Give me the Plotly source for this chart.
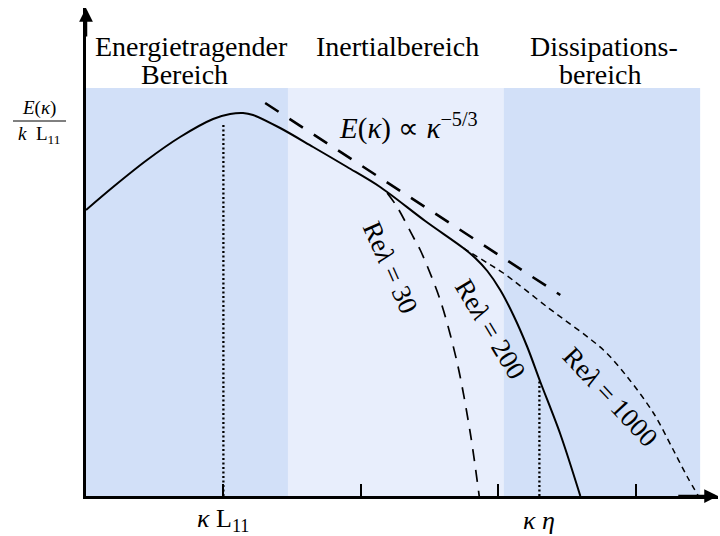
import plotly.graph_objects as go

# Normalised wavenumber (kappa) and spectrum values E(kappa)/(k L11)
kappa_main = [0.0, 0.197, 0.444, 0.685, 0.925, 1.049, 1.143, 1.216, 1.413, 1.653,
              1.901, 2.141, 2.469, 2.746, 2.833, 2.921, 3.015, 3.110, 3.212, 3.307,
              3.452, 3.598]
E_main = [2.86, 3.09, 3.36, 3.59, 3.77, 3.82, 3.83, 3.81, 3.68, 3.49,
          3.29, 3.09, 2.75, 2.48, 2.38, 2.25, 2.06, 1.81, 1.49, 1.14,
          0.62, 0.0]

kappa_re30 = [2.192, 2.265, 2.382, 2.433, 2.578, 2.702, 2.797, 2.862]
E_re30 = [3.03, 2.89, 2.59, 2.46, 1.96, 1.33, 0.63, 0.0]

kappa_re1000 = [2.746, 2.921, 3.037, 3.357, 3.766, 3.94, 4.13, 4.275, 4.377, 4.457]
E_re1000 = [2.48, 2.33, 2.23, 1.89, 1.46, 1.19, 0.83, 0.46, 0.19, 0.0]

# -5/3 reference slope
kappa_slope = [1.304, 3.452]
E_slope = [3.93, 2.01]

# Characteristic wavenumbers (kappa L11 and kappa eta) with their curve heights
kappa_L11, E_L11 = 1.0, 3.73
kappa_eta, E_eta = 3.30, 1.16

tick_vals = [1, 2, 3, 4]

# Spectral ranges
region_edges = [0.0, 1.47, 3.04, 4.47]
region_top = 4.08
region_colors = ["#d2e0f8", "#e8eefc", "#d2e0f8"]
# (text, x, y) for each title line
region_lines = [
    ("Energietragender", 0.77, 4.495),
    ("Bereich", 0.72, 4.215),
    ("Inertialbereich", 2.265, 4.495),
    ("Dissipations-", 3.77, 4.495),
    ("bereich", 3.74, 4.215),
]

re_labels = ["Re<i>λ</i> = 30", "Re<i>λ</i> = 200", "Re<i>λ</i> = 1000"]
re_label_pos = [(2.214, 2.29, 66), (2.942, 1.67, 59), (3.816, 0.99, 47)]

X_MAX, Y_MAX = 4.6, 4.88
SERIF = "Liberation Serif"

fig = go.Figure()

# shaded ranges
for x0, x1, col in zip(region_edges[:-1], region_edges[1:], region_colors):
    fig.add_shape(type="rect", x0=x0, x1=x1, y0=0, y1=region_top,
                  fillcolor=col, line_width=0, layer="below")

# spectra
fig.add_trace(go.Scatter(x=kappa_main, y=E_main, mode="lines",
                         line=dict(color="black", width=2, shape="spline", smoothing=0.9)))
fig.add_trace(go.Scatter(x=kappa_re30, y=E_re30, mode="lines",
                         line=dict(color="black", width=1.7, dash="12px,9px",
                                   shape="spline", smoothing=0.9)))
fig.add_trace(go.Scatter(x=kappa_re1000, y=E_re1000, mode="lines",
                         line=dict(color="black", width=1.5, dash="6px,4.5px",
                                   shape="spline", smoothing=0.9)))
fig.add_trace(go.Scatter(x=kappa_slope, y=E_slope, mode="lines",
                         line=dict(color="black", width=2.6, dash="16px,13px")))

# markers for kappa L11 and kappa eta
for kx, ky in [(kappa_L11, E_L11), (kappa_eta, E_eta)]:
    fig.add_trace(go.Scatter(x=[kx, kx], y=[0, ky], mode="lines",
                             line=dict(color="black", width=2.3, dash="2px,2.5px")))

ann = []
# axis arrowheads
ann.append(dict(x=X_MAX, y=0, ax=X_MAX - 0.3, ay=0, xref="x", yref="y", axref="x", ayref="y",
                text="", showarrow=True, arrowhead=2, arrowsize=1.1, arrowwidth=2.5,
                arrowcolor="black", standoff=0))
ann.append(dict(x=0, y=Y_MAX, ax=0, ay=Y_MAX - 0.3, xref="x", yref="y", axref="x", ayref="y",
                text="", showarrow=True, arrowhead=2, arrowsize=1.1, arrowwidth=2.5,
                arrowcolor="black", standoff=0))

# range titles
for txt, lx, ly in region_lines:
    ann.append(dict(x=lx, y=ly, xref="x", yref="y", text=txt, showarrow=False,
                    font=dict(family=SERIF, size=28, color="black")))

# slope annotation
ann.append(dict(x=2.345, y=3.70, xref="x", yref="y",
                text="<i>E</i>(<i>κ</i>) ∝ <i>κ</i><sup>−5/3</sup>", showarrow=False,
                font=dict(family=SERIF, size=29, color="black")))

# Reynolds number labels along curves
for txt, (lx, ly, ang) in zip(re_labels, re_label_pos):
    ann.append(dict(x=lx, y=ly, xref="x", yref="y", text=txt, showarrow=False,
                    textangle=ang, font=dict(family=SERIF, size=27, color="black")))

# x-axis labels
ann.append(dict(x=kappa_L11, y=0, xref="x", yref="y", yshift=-24,
                text="<i>κ</i> L<sub>11</sub>", showarrow=False,
                font=dict(family=SERIF, size=26, color="black")))
ann.append(dict(x=kappa_eta, y=0, xref="x", yref="y", yshift=-24,
                text="<i>κ</i> <i>η</i>", showarrow=False,
                font=dict(family=SERIF, size=26, color="black")))

# y-axis label as a fraction
ann.append(dict(x=-0.0736, y=3.75, xref="paper", yref="y", xanchor="center",
                yanchor="bottom", yshift=0,
                text="<i>E</i>(<i>κ</i>)", showarrow=False,
                font=dict(family=SERIF, size=19, color="black")))
ann.append(dict(x=-0.0736, y=3.75, xref="paper", yref="y", xanchor="center",
                yanchor="top", yshift=0,
                text="<i>k</i>  L<sub>11</sub>", showarrow=False,
                font=dict(family=SERIF, size=19, color="black")))

fig.add_shape(type="line", xref="paper", yref="y", x0=-0.1155, x1=-0.0316, y0=3.75, y1=3.75,
              line=dict(color="black", width=1))

fig.update_layout(
    width=720, height=536,
    margin=dict(l=86, r=2, t=8, b=40),
    plot_bgcolor="white", paper_bgcolor="white",
    showlegend=False,
    annotations=ann,
)
fig.update_xaxes(range=[0, X_MAX], showgrid=False, zeroline=False,
                 showline=True, linecolor="black", linewidth=2.5,
                 ticks="inside", tickvals=tick_vals, ticklen=12, tickwidth=2,
                 tickcolor="black", showticklabels=False)
fig.update_yaxes(range=[0, Y_MAX], showgrid=False, zeroline=False,
                 showline=True, linecolor="black", linewidth=2.5,
                 ticks="", showticklabels=False)

fig.write_html("out.html")
